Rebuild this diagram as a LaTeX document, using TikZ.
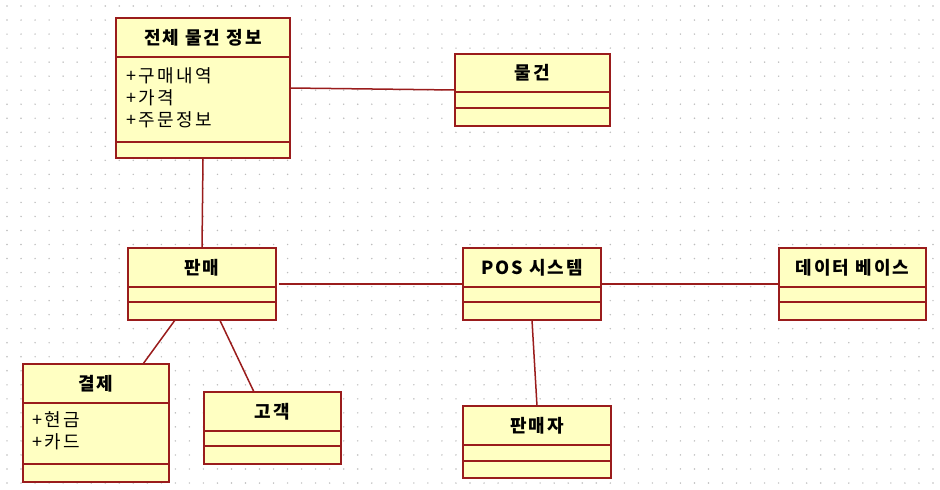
\documentclass[tikz,border=0pt]{standalone}
\usepackage{fontspec}
\setmainfont{Noto Sans CJK KR}
\newfontfamily\titlefont[LetterSpace=11]{Noto Sans CJK KR}
\newfontfamily\attrfont[LetterSpace=14]{Noto Sans CJK KR}
\usetikzlibrary{calc}
\definecolor{boxfill}{HTML}{FFFFC2}
\definecolor{boxline}{HTML}{9A1C1C}
\definecolor{dotc}{HTML}{BDBDBD}
\tikzset{
  classbox/.style={draw=boxline, fill=boxfill, line width=1.7pt, inner sep=0pt, outer sep=0pt},
  classline/.style={draw=boxline, line width=1.7pt},
  assoc/.style={draw=boxline, line width=1.5pt},
  titletext/.style={font=\titlefont\bfseries\fontsize{18}{21}\selectfont, inner sep=0pt},
  attrtext/.style={font=\attrfont\fontsize{18}{21}\selectfont, inner sep=0pt, anchor=west},
}
\newcommand{\umlclass}[8]{%
  \node[classbox, minimum width={(#4-#2)*1pt}, minimum height={(#5-#3)*1pt}, anchor=north west] (#1) at (#2,#3) {};
  \draw[classline] (#1.west |- 0,#6) -- (#1.east |- 0,#6);
  \draw[classline] (#1.west |- 0,#7) -- (#1.east |- 0,#7);
  \node[titletext] (#1-title) at ($(#1.north)!0.5!(#1.north |- 0,#6)$) {#8};
}
\begin{document}
\begin{tikzpicture}[x=1pt, y=-1pt]
\useasboundingbox (0,0) rectangle (940,490);
\fill[white] (0,0) rectangle (940,490);
\foreach \i in {0,...,66} {
  \foreach \j in {0,...,34} {
    \fill[dotc] ({7+14.03*\i},{6+14.03*\j}) circle (0.8);
  }
}
% classes
\umlclass{whole}{116}{18}{290}{158}{57}{142}{전체 물건 정보}
\node[attrtext] (whole-a1) at (126,75.5) {+구매내역};
\node[attrtext] (whole-a2) at (126,97.5) {+가격};
\node[attrtext] (whole-a3) at (126,119.5) {+주문정보};
\umlclass{goods}{455}{54}{610}{126}{92}{108}{물건}
\umlclass{pan}{128}{248}{276}{320}{287}{302}{판매}
\umlclass{pos}{463}{248}{601}{320}{287}{302}{POS 시스템}
\umlclass{db}{779}{248}{926}{320}{287}{302}{데이터 베이스}
\umlclass{pay}{23}{364}{169}{482}{403}{464}{결제}
\node[attrtext] (pay-a1) at (32,420) {+현금};
\node[attrtext] (pay-a2) at (32,442) {+카드};
\umlclass{cust}{204}{392}{341}{464}{431}{446}{고객}
\umlclass{seller}{463}{406}{611}{478}{445}{461}{판매자}
% associations
\draw[assoc] (whole.east) -- (goods.west);
\draw[assoc] (whole.south) -- (pan.north);
\draw[assoc, shorten <=3pt] (pan.east) -- (pos.west);
\draw[assoc] (pos.east) -- (db.west);
\draw[assoc] (pos.south) -- (seller.north);
\draw[assoc] ($(pan.south west)!0.318!(pan.south east)$) -- ($(pay.north west)!0.822!(pay.north east)$);
\draw[assoc] ($(pan.south west)!0.62!(pan.south east)$) -- ($(cust.north west)!0.365!(cust.north east)$);
\end{tikzpicture}
\end{document}
